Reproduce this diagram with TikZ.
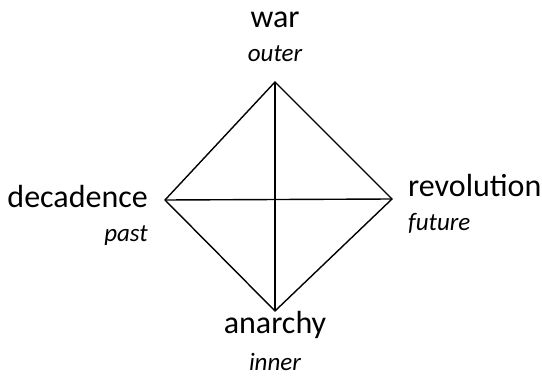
\documentclass[tikz,border=0pt]{standalone}
\usepackage{fontspec}
\setmainfont{Carlito}
\usepackage{tikz}
\usetikzlibrary{positioning}
\tikzset{
  mainlbl/.style = {font=\fontsize{32}{36}\selectfont, inner sep=0pt},
  sublbl/.style = {font=\fontsize{25}{28}\selectfont\itshape, inner sep=0pt},
  edge/.style = {draw=black, line width=1.4pt, line join=miter},
}
\begin{document}
\begin{tikzpicture}[x=1pt, y=-1pt]
  \useasboundingbox (0,0) rectangle (542,377);

  %% diamond corners
  \coordinate (top) at (275,82);
  \coordinate (lft) at (165,200);
  \coordinate (rgt) at (392,199);
  \coordinate (bot) at (275,311);

  %% labels
  \node[mainlbl, anchor=base] (war) at (275,28) {war};
  \node[sublbl, anchor=base] (outer) at (275,62) {outer};
  \node[mainlbl, anchor=base east] (dec) at (148,208) {decadence};
  \node[sublbl, anchor=base east] (past) at (148,242) {past};
  \node[mainlbl, anchor=base west] (rev) at (408,197) {revolution};
  \node[sublbl, anchor=base west] (fut) at (408,231) {future};
  \node[mainlbl, anchor=base] (ana) at (275,334) {anarchy};
  \node[sublbl, anchor=base] (inn) at (275,371) {inner};

  \draw[edge] (top) -- (rgt) -- (bot) -- (lft) -- cycle;
  \draw[edge] (top) -- (bot);
  \draw[edge] (lft) -- (rgt);

\end{tikzpicture}
\end{document}
